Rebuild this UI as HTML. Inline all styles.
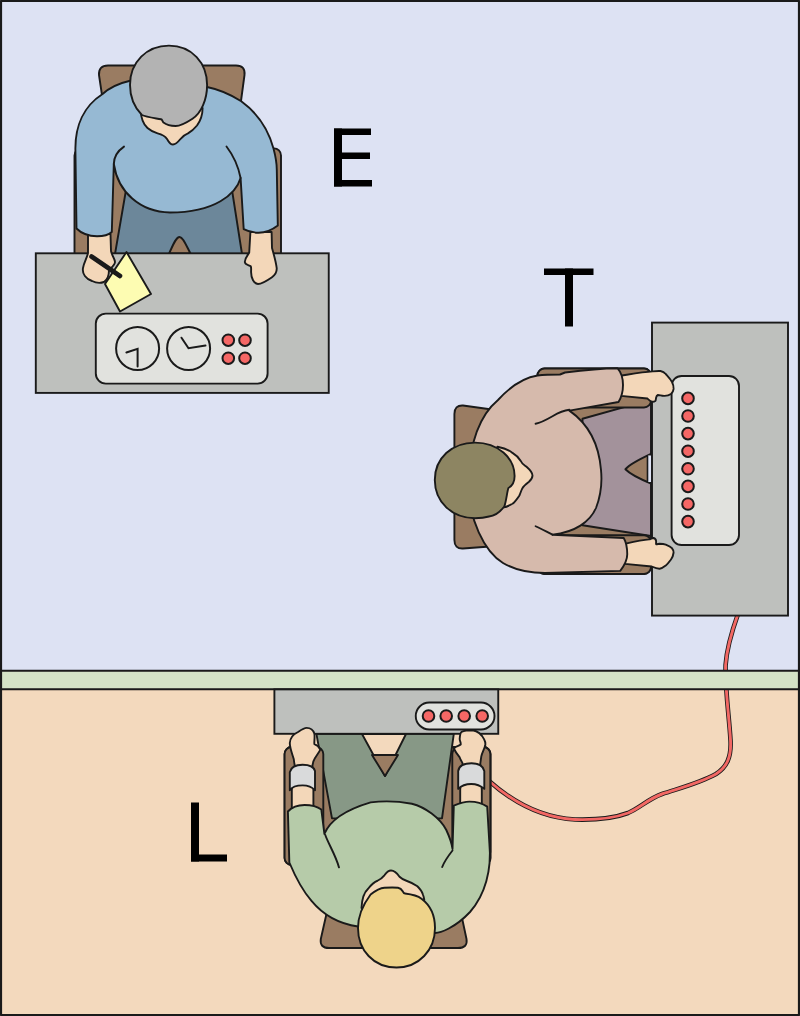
<!DOCTYPE html>
<html><head><meta charset="utf-8"><style>
html,body{margin:0;padding:0;background:#dde2f3;}
svg{display:block;}
</style></head><body>
<svg width="800" height="1016" viewBox="0 0 800 1016" stroke-linejoin="round" stroke-linecap="round">
<!-- backgrounds -->
<rect x="0" y="0" width="800" height="680" fill="#dde2f3"/>
<rect x="0" y="680" width="800" height="336" fill="#f3d9bd"/>

<!-- wire (under wall strip) -->
<path id="wirepath" d="M738,614 C733,628 727,645 725.6,665 C725,690 729,715 730.5,740 C731.5,757 727,767 716,774 C700,783 680,788 662,794 C648,799 640,808 628,813 C612,819 592,820 575,819.5 C545,818 515,804 489,781" fill="none" stroke="#1a1a1a" stroke-width="4.6"/>
<path d="M738,614 C733,628 727,645 725.6,665 C725,690 729,715 730.5,740 C731.5,757 727,767 716,774 C700,783 680,788 662,794 C648,799 640,808 628,813 C612,819 592,820 575,819.5 C545,818 515,804 489,781" fill="none" stroke="#f26864" stroke-width="2.9"/>

<!-- wall strip -->
<rect x="-2" y="670.8" width="804" height="18.4" fill="#d4e3c6" stroke="#1a1a1a" stroke-width="2"/>

<!-- ============ E ============ -->
<g id="E" stroke="#1a1a1a" stroke-width="1.9">
  <!-- chair -->
  <path d="M108,65.5 L236,65.5 Q245.5,65.5 244.5,75 L239.5,112 L104.5,112 L99,75 Q98.5,65.5 108,65.5 Z" fill="#9a7c62"/>
  <rect x="74.5" y="148.4" width="206.5" height="112" rx="7" fill="#9a7c62"/>
  <!-- pants -->
  <path d="M126,190 L232,190 L242,254 L115,254 Z" fill="#6c879a"/>
  <path d="M169.1,253.5 C173,245 176,237 179.6,237 C183,237 186,245 190.5,253.5 Z" fill="#9a7c62"/>
  <!-- desk -->
  <rect x="35.8" y="253.3" width="292.95" height="139.6" fill="#bec0bd" stroke-linejoin="miter"/>
  <rect x="95.8" y="313.6" width="171.8" height="70" rx="10" fill="#e1e2de"/>
  <circle cx="137.6" cy="348.5" r="21.5" fill="#e1e2de" stroke-width="2"/>
  <circle cx="188.6" cy="348.5" r="21.5" fill="#e1e2de" stroke-width="2"/>
  <path d="M126.4,352.5 L137.6,348.9 L137.6,366.6" fill="none" stroke-width="2" stroke-linejoin="miter"/>
  <path d="M181.5,337.7 L188.5,348.2 L205.5,345.6" fill="none" stroke-width="2" stroke-linejoin="miter"/>
  <g fill="#f56765" stroke-width="2">
    <circle cx="228.3" cy="340.2" r="5.8"/>
    <circle cx="245" cy="340.2" r="5.8"/>
    <circle cx="228.3" cy="358.2" r="5.8"/>
    <circle cx="245" cy="358.2" r="5.8"/>
  </g>
  <!-- paper -->
  <path d="M126.5,252 L151,294 L120,311.5 L105,284 Z" fill="#fdfcb2"/>
  <!-- left hand -->
  <path d="M88,234 L88,253 C87,258 84,262 83,268 C82,274 86,279 92,281 C96,283 100,283.5 104,282 C107,280 109,275 109,270 C111,268 115,265 115,262 C115,259 112,256 111,251 L110.5,234 Z" fill="#f3d7b9"/>
  <!-- pen -->
  <line x1="91.5" y1="256.5" x2="120" y2="276" stroke="#1a1a1a" stroke-width="4.6"/>
  <!-- right hand -->
  <path d="M250.4,232 L249.2,252.8 C247,256 245,258 244.8,262 C245,265 249,265 250.75,266.2 C251.5,268 251,270 251.1,272 C251,278 254,284 258,284 C262,284 268,280 272,277.2 C275,275 277,272 276.7,268 C276,262 274,255 272,248 L271.6,232 Z" fill="#f3d7b9"/>
  <!-- shirt -->
  <path d="M102.25,94.25 C110,87 120,83 131,80.5 L207,87 C222,90 233,96 241.25,101.25 C256,112 268,128 273.5,148.5 C275.5,156 276.8,162 276.8,170 L277.8,225.5 C272,230 265,232.7 258.6,232.7 C252,232.7 247,231 243.7,229.2 L240.6,178 C236,194 215,212.5 170,212.5 C140,212 118,192 113.8,164 L111.8,232 C108,235.5 103,236.3 97,236.3 C88,236 81,233 76.5,228.5 L75.4,150 C75,126 84,106 102.25,94.25 Z" fill="#96b9d3"/>
  <path d="M124,146.6 C119,150 114,156 113.8,164" fill="none"/>
  <path d="M226.5,146.5 C233,155 238,165 240.6,178" fill="none"/>
  <!-- face -->
  <path d="M140.75,110 C141,119 143,124 147.5,128 C151,131 154,132.5 157.6,133.4 C162,134.5 165,136 167,139 C169,142 170,144.5 173,144.5 C176,144.5 178,142 180,139.5 C182,137 185,134.5 188,133.4 C192,131 195,128 197,125.5 C201,120 202.6,116 202.6,108 Z" fill="#f3d7b9"/>
  <!-- hair -->
  <path d="M168.9,45.6 C192,45.6 207.1,63 207.1,85 C207.1,100 201,113 192.5,118.75 C186,123 181,126 175.6,126 C170,126 166,124.5 163.5,122.5 C162,121 162.5,119.6 161,119.3 C154,118 146,117 141.9,115 C134,107 130,97 130,85 C130,62 147,45.6 168.9,45.6 Z" fill="#b3b3b3"/>
</g>

<!-- ============ T ============ -->
<g id="T" stroke="#1a1a1a" stroke-width="1.9">
  <path d="M463,405.5 L510,412 L510,545 L463,548.5 Q454.4,549 454.4,540 L454.4,414 Q454.4,405 463,405.5 Z" fill="#9a7c62"/>
  <rect x="537.5" y="368.5" width="113.5" height="205.5" rx="7" fill="#9a7c62"/>
  <path d="M582.5,418.75 L651,399.6 L651,536 L582.5,525.3 Z" fill="#a3929b"/>
  <rect x="537.5" y="368.5" width="113.5" height="39" rx="7" fill="#9a7c62"/>
  <rect x="537.5" y="535.25" width="113.5" height="38.75" rx="7" fill="#9a7c62"/>
  <path d="M651,453.9 C640,459 630,464 625.4,469.25 C630,474 640,479 651,483.5 Z" fill="#9a7c62"/>
  <rect x="648" y="455.5" width="3.5" height="26.5" fill="#dde2f3" stroke="none"/>
  <line x1="647.5" y1="456" x2="647.5" y2="482" stroke-width="1.6"/>
  <!-- desk -->
  <rect x="652" y="322.6" width="136" height="293" fill="#bec0bd" stroke-linejoin="miter"/>
  <rect x="671.6" y="376" width="67.4" height="169" rx="10" fill="#e1e2de"/>
  <g fill="#f56765" stroke-width="2">
    <circle cx="688" cy="398.4" r="5.8"/><circle cx="688" cy="416" r="5.8"/><circle cx="688" cy="433.6" r="5.8"/><circle cx="688" cy="451.2" r="5.8"/>
    <circle cx="688" cy="468.8" r="5.8"/><circle cx="688" cy="486.4" r="5.8"/><circle cx="688" cy="504" r="5.8"/><circle cx="688" cy="521.6" r="5.8"/>
  </g>
  <!-- hands -->
  <path d="M621,375.75 C632,374 643,372 652.6,371.4 C656,371 658,370.8 660.5,371 C663,371.5 664.5,372.5 665.75,374 C668,376.5 670.5,379 671.9,381.9 C673,384 673.8,386.5 673.6,388.9 C673.3,391.5 672.5,393 671,394.1 C669,395.5 666.5,396 664,395.9 C661.5,395.8 659.5,395 657.9,395 C656.5,395.5 656.3,396.5 656.1,397.6 C655.9,399 655.8,400.5 655.25,401 C654,401.8 652.8,401.8 651.75,401.6 C650,401 648.5,399.5 647.4,398.5 L621,395.9 Z" fill="#f3d7b9"/>
  <path d="M625,543.75 C633,542 642,540 649.1,539.4 C650.5,539 652,538 653.5,538 C655,538.5 656,539.8 656.1,541.1 C656.2,542.5 656,543.5 656.1,544.2 C657,544.3 658.5,543.8 659.6,543.75 C661.5,543.8 664,544 665.75,544.6 C668,545.5 670.5,546.5 671.9,548.1 C673,549.5 673.8,551 673.6,552.5 C673.3,555 672.5,557.5 671,559.5 C669.5,561.5 667.5,564 665.75,565.6 C664,567 661.5,568.5 659.6,568.7 C657,568.8 654,567.5 651.75,566.5 L625,563.9 Z" fill="#f3d7b9"/>
  <!-- shirt -->
  <path d="M617.6,368.3 C600,368.5 585,370 565,372.5 L560,374.5 C553,374.5 545,374.6 537.5,375.5 C522,378 508,389 498,400 C480,415 470,440 468,480 C468,520 485,552 503,563 C515,570 530,573 545,573 L620.25,570.9 C624,566 627.25,560 627.25,554.25 C627.25,548 626,542 623.75,538 L552.5,534.7 C575,532 590,522 596,508 C601,495 602,480 601,470 C599,445 590,425 569.4,410.6 L618.5,402 C621,398 623,392 623,385 C623,378 621,372 617.6,368.3 Z" fill="#d6baac"/>
  <path d="M535.6,423.75 C540,423 546,420 552.5,416.25 C558,413 563,410.5 569.4,409.8" fill="none"/>
  <path d="M535.6,526.25 C542,529 547,532 552.5,534.7" fill="none"/>
  <!-- face -->
  <path d="M497.4,446.7 C504,448 509,450 512.5,452.9 C516,455 519,458 520.75,461 C522,464 524,465 526.3,466.6 C529,469 532.5,472 532.5,475.6 C532.5,478 531,480 529,481.75 C526,484 523.5,486 522.2,488.6 C521,491 520.5,493 519.4,495.5 C517,499 515,502 512.5,503.75 C510,505 507,507 504.3,507.2 Z" fill="#f3d7b9"/>
  <!-- hair -->
  <path d="M434.8,480 C434.8,458 452,442.6 475,442.6 C498,442.6 514.6,458 514.6,476 C514.6,482 512,486 508.4,488 C507,492 506.5,500 504.3,506.5 C500,512 495,516 489,516.5 C484,518 479,518.2 475,518.2 C452,518.2 434.8,502 434.8,480 Z" fill="#8d8562"/>
</g>

<!-- ============ L ============ -->
<g id="L" stroke="#1a1a1a" stroke-width="1.9">
  <path d="M333,885 L455,885 L466.5,939 Q468,948 458,948 L329,948 Q319.5,948 320.8,939 Z" fill="#9a7c62"/>
  <rect x="284.6" y="747" width="206" height="118" rx="7" fill="#9a7c62"/>
  <path d="M316.4,733.8 L453.8,733.8 L442,818.4 L332,818.4 Z" fill="#879886"/>
  <path d="M362,734 L406,734 L385,776 Z" fill="#f3d9bd"/>
  <path d="M372,755 L398,755 L385,776 Z" fill="#9a7c62"/>
  <rect x="284.6" y="747" width="38.7" height="118" rx="7" fill="#9a7c62"/>
  <rect x="452.3" y="747" width="38" height="112" rx="7" fill="#9a7c62"/>
  <!-- desk -->
  <rect x="274.4" y="689.4" width="223.85" height="44.4" fill="#bec0bd" stroke-linejoin="miter"/>
  <rect x="415.75" y="702.5" width="78.75" height="27" rx="13.5" fill="#e1e2de"/>
  <g fill="#f56765" stroke-width="2">
    <circle cx="428.5" cy="716" r="5.8"/><circle cx="446.2" cy="716" r="5.8"/><circle cx="464.2" cy="716" r="5.8"/><circle cx="482.2" cy="716" r="5.8"/>
  </g>
  <!-- arms/hands -->
  <path d="M291.8,812 L291.8,790 L294.75,765.25 C294,762 294,761 293.8,759.3 C292,753 289.8,748 289.8,743 C290,738 294,734 298,732 C301,730 304,727.9 306.6,727.9 C310,727.9 313,729 314.4,733.8 C315,738 314,742 314.4,744.1 C317,745 319,747 320.3,749.5 C319,753 315,757 313.4,761.3 L312.5,765.25 L313.4,790 L313.4,812 Z" fill="#f3d7b9"/>
  <path d="M289.8,772.1 C291,767 296,764.75 302.6,764.75 C309,764.75 314,767 315,771.1 L315,790.3 C312,787 308,785.4 302.6,785.4 C297,785.4 292,787 289.8,790.3 Z" fill="#d9dadb"/>
  <path d="M460.2,812 L460.2,790 L462.6,763.3 C461,760 460,759 459.7,757.4 C457,754 455,751 453.8,748.5 C456,746 459,746 460.7,744.6 C461,742 459.5,741 459.7,738.7 C460,735 460.5,732.5 461.6,731.8 C465,730.3 469,730.3 472.5,730.3 C478,731 482,735 484.3,739.7 C485.5,742 485.5,744 485.2,745.6 C484,750 482,753 481.3,756.4 L480.3,763.3 L481.8,790 L481.8,812 Z" fill="#f3d7b9"/>
  <path d="M458.2,771 C459,766 464,763.3 471.5,763.3 C478,763.3 483,766 484.3,771 L484.3,788.9 C481,786 477,784 471.3,784 C466,784 461,786 458.2,788.9 Z" fill="#d9dadb"/>
  <!-- shirt -->
  <path d="M287.9,811.5 C292,807 298,805 304.6,805 C312,805 318,807 321.3,809.5 L324.4,834 C330,820 345,810 370.6,802.4 C385,800.5 400,801.5 411.9,803.75 C425,807 440,818 446.3,830 C450,838 452,845 452.5,849 L453.8,805.6 C460,803 465,801.6 469.5,801.6 C476,801.6 482,803 487.2,806.6 L489.35,843 C492,870 485,895 470,912 C455,928 440,933 435,933 L358,926.5 C340,924 324,916 311.5,900.9 C302,890 295,876 289.35,862.5 Z" fill="#b6cba9"/>
  <path d="M325.3,835 C328,843 336,856 339,867.4" fill="none"/>
  <path d="M452.5,850.5 C449,855 444,862 442.2,867" fill="none"/>
  <!-- neck -->
  <path d="M361.5,908 C362,898 364.5,892 367.9,889 C371,885 374,882 377.5,880.75 C381,879 383,877 384.4,875.3 C386,873 388,870.5 391,870.5 C394,870.5 397,873 399.5,876.7 C402,879 404,880 406.4,880.75 C410,882 414,884 417.4,886.3 C420,889 422,891 422.9,894.5 C423.5,896 424,898 424.3,900 Z" fill="#f3d7b9"/>
  <!-- hair -->
  <path d="M396.5,967.5 C373.4,967.5 358,950 358,928 C358,913 365,902 370.6,894.5 C375,891 380,888 384.4,887.7 C390,887.5 395,887.5 398,887.7 C400,888 402,890 402.5,891 C403.5,893 404,893.5 405,893.5 C409,894 418,896 421.5,898.7 C430,905 435,915 435,928 C435,950 419,967.5 396.5,967.5 Z" fill="#eed38a"/>
</g>

<!-- letters -->
<g fill="#000">
<rect x="334" y="128.5" width="8" height="58"/>
<rect x="334" y="128.5" width="37" height="6.5"/>
<rect x="334" y="152.5" width="36" height="6.5"/>
<rect x="334" y="180" width="38" height="6.5"/>
<rect x="544" y="268.5" width="49.5" height="6.5"/>
<rect x="565" y="268.5" width="8" height="58"/>
<rect x="191" y="802.5" width="8" height="59"/>
<rect x="191" y="854.5" width="36" height="7"/>
</g>

<!-- border -->
<rect x="1" y="1" width="798" height="1014" fill="none" stroke="#1a1a1a" stroke-width="2.2"/>
</svg>
</body></html>
